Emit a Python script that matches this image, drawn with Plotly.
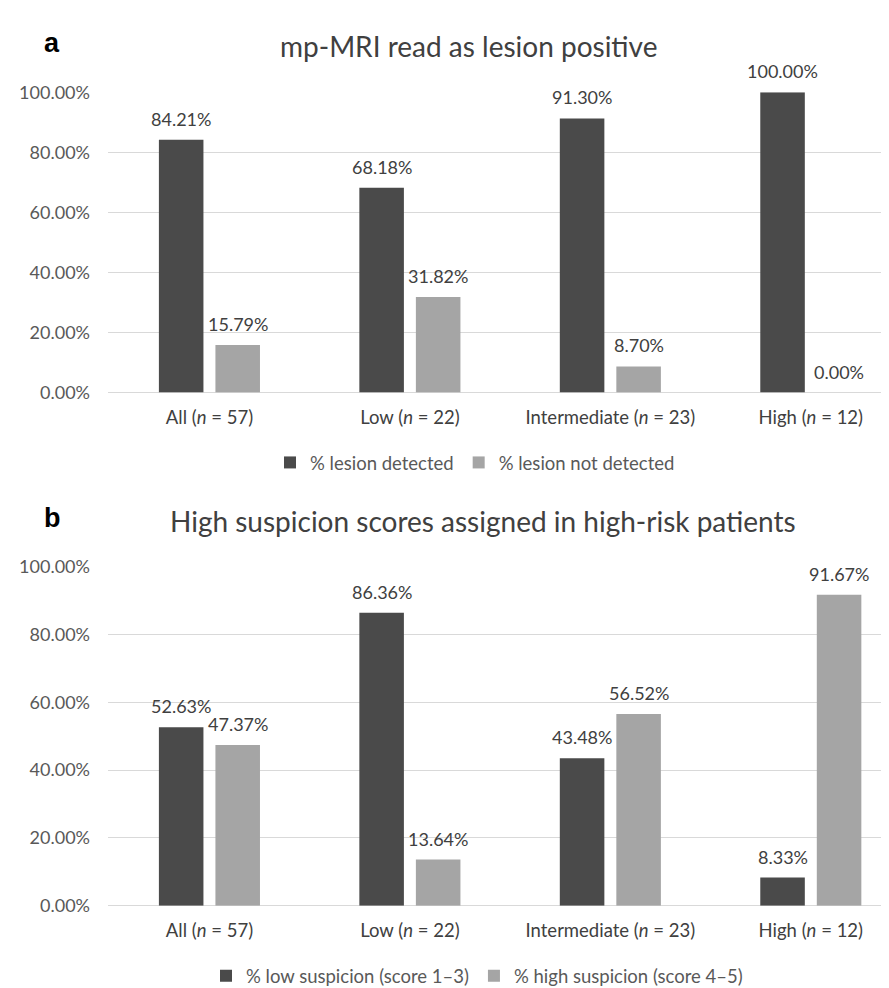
import plotly.graph_objects as go

categories = ["All", "Low", "Intermediate", "High"]
n_values = [57, 22, 23, 12]
tick_labels = [f"{c} (<i>n</i> = {n})" for c, n in zip(categories, n_values)]

a_detected = [84.21, 68.18, 91.30, 100.00]
a_not_detected = [15.79, 31.82, 8.70, 0.00]
b_low = [52.63, 86.36, 43.48, 8.33]
b_high = [47.37, 13.64, 56.52, 91.67]

title_a = "mp-MRI read as lesion positive"
title_b = "High suspicion scores assigned in high-risk patients"
names_a = ["% lesion detected", "% lesion not detected"]
names_b = ["% low suspicion (score 1–3)", "% high suspicion (score 4–5)"]

DARK = "#4a4a4a"
LIGHT = "#a5a5a5"
TXT = "#404040"
TICK = "#595959"
GRID = "#d9d9d9"
FONT = "Lato, Open Sans, sans-serif"
W, H = 889, 988

fig = go.Figure()

def add_panel(series, names, colors, xa, ya, legend):
    for vals, nm, col in zip(series, names, colors):
        fig.add_trace(go.Bar(
            x=categories, y=[v / 100 for v in vals], name=nm,
            marker=dict(color=col, line=dict(width=0)),
            xaxis=xa, yaxis=ya, legend=legend, hoverinfo="skip",
        ))
    shifts = [-28.25, 28.25]
    for vals, sh in zip(series, shifts):
        for c, v in zip(categories, vals):
            fig.add_annotation(
                x=c, y=v / 100, xref=xa, yref=ya, text=f"{v:.2f}%",
                showarrow=False, xshift=sh, yshift=21, yanchor="middle",
                font=dict(family=FONT, size=18, color=TXT),
            )

add_panel([a_detected, a_not_detected], names_a, [DARK, LIGHT], "x", "y", "legend")
add_panel([b_low, b_high], names_b, [DARK, LIGHT], "x2", "y2", "legend2")

xdom = [100 / W, 885 / W]
xcommon = dict(
    domain=xdom, type="category", range=[-0.506, 3.41],
    tickmode="array", tickvals=categories, ticktext=tick_labels,
    showgrid=False, showline=False, zeroline=False, ticks="",
    tickfont=dict(family=FONT, size=18.5, color=TXT), ticklabelstandoff=12,
)
ycommon = dict(
    range=[0, 1], dtick=0.2, tickformat=".2%", showgrid=True,
    gridcolor=GRID, gridwidth=1.3, zeroline=True, zerolinecolor=GRID,
    zerolinewidth=1.3, showline=False, ticks="",
    tickfont=dict(family=FONT, size=18, color=TICK), ticklabelstandoff=17,
)

fig.update_layout(
    width=W, height=H,
    margin=dict(l=0, r=0, t=0, b=0),
    paper_bgcolor="white", plot_bgcolor="white",
    barmode="group", bargap=0.436, bargroupgap=0.212,
    font=dict(family=FONT, color=TXT),
    xaxis=dict(**xcommon, anchor="y"),
    yaxis=dict(**ycommon, domain=[1 - 381 / H, 1 - 74 / H], anchor="x"),
    xaxis2=dict(**xcommon, anchor="y2"),
    yaxis2=dict(**ycommon, domain=[1 - 906 / H, 1 - 559 / H], anchor="x2"),
    legend=dict(orientation="h", x=467 / W, xanchor="center", y=1 - 453 / H,
                yanchor="middle", font=dict(family=FONT, size=18.5, color=TICK),
                itemsizing="constant", bgcolor="rgba(0,0,0,0)"),
    legend2=dict(orientation="h", x=469 / W, xanchor="center", y=1 - 978 / H,
                 yanchor="middle", font=dict(family=FONT, size=18.5, color=TICK),
                 itemsizing="constant", bgcolor="rgba(0,0,0,0)"),
    showlegend=True,
)

for txt, xp, yp in [(title_a, 460, 27), (title_b, 475, 512)]:
    fig.add_annotation(x=xp / W, y=1 - yp / H, xref="paper", yref="paper",
                       text=txt, showarrow=False, xanchor="center", yanchor="middle",
                       font=dict(family=FONT, size=28, color=TXT))
for txt, xp, yp in [("a", 44, 24), ("b", 44, 509)]:
    fig.add_annotation(x=xp / W, y=1 - yp / H, xref="paper", yref="paper",
                       text=f"<b>{txt}</b>", showarrow=False, xanchor="center",
                       yanchor="middle",
                       font=dict(family="Liberation Sans, Arial", size=27, color="#000000"))

fig.write_html("out.html")
